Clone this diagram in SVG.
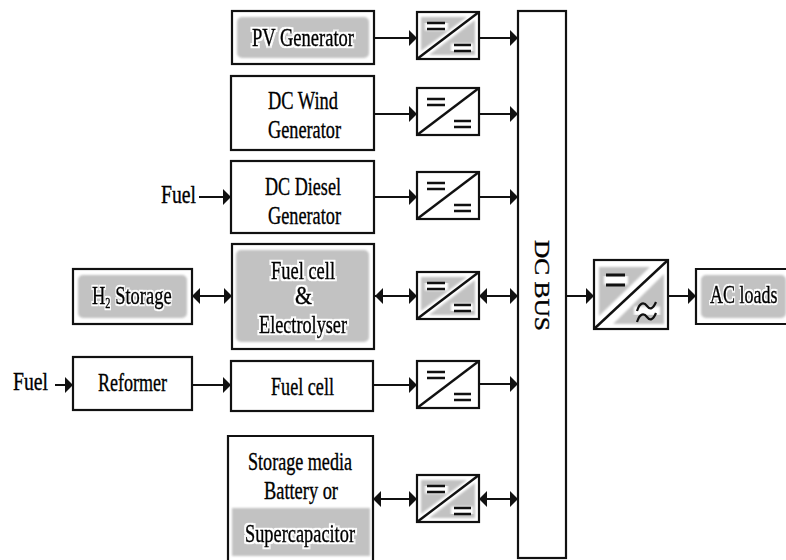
<svg xmlns="http://www.w3.org/2000/svg" width="786" height="560" viewBox="0 0 786 560">
<style>
.box{fill:#fff;stroke:#111;stroke-width:2.2}
.gray{fill:#c2c2c2;filter:url(#soft)}
.wire{fill:none;stroke:#111;stroke-width:2}
.wire-end{marker-end:url(#tip)}
.wire-both{marker-start:url(#tipStart);marker-end:url(#tip)}
.t{font-family:"Liberation Serif","Times New Roman",serif;font-size:25px;fill:#000;stroke:#000;stroke-width:.35px}
.h{filter:url(#textHalo)}
.eq{stroke:#111;stroke-width:2.6;fill:none}
.halo{stroke:#fff;stroke-width:9;fill:none;filter:url(#soft)}
</style>
<defs>
<filter id="soft" x="-10%" y="-10%" width="120%" height="120%" color-interpolation-filters="sRGB"><feGaussianBlur stdDeviation="0.8"/></filter>
<filter id="textHalo" x="-10%" y="-20%" width="120%" height="140%" color-interpolation-filters="sRGB">
<feMorphology in="SourceAlpha" operator="dilate" radius="1.6" result="d"/>
<feGaussianBlur in="d" stdDeviation="0.7" result="b"/>
<feFlood flood-color="#fff"/>
<feComposite in2="b" operator="in" result="w"/>
<feMerge><feMergeNode in="w"/><feMergeNode in="SourceGraphic"/></feMerge>
</filter>
<marker id="tip" markerUnits="userSpaceOnUse" markerWidth="10" markerHeight="16" refX="9" refY="8" orient="auto"><path d="M1 0L9 8L1 16Z" fill="#111"/></marker>
<marker id="tipStart" markerUnits="userSpaceOnUse" markerWidth="10" markerHeight="16" refX="1" refY="8" orient="auto"><path d="M9 0L1 8L9 16Z" fill="#111"/></marker>
<g id="conv">
<rect class="box" x="0" y="0" width="62" height="47"/>
<path d="M62 0L0 47" stroke="#111" stroke-width="2.4"/>
<path class="eq" d="M10 11H28M10 17H28M37 33H54M37 39H54"/>
</g>
<g id="convGray">
<rect class="box" x="0" y="0" width="62" height="47"/>
<path class="gray" d="M4 5H50L4 39ZM58 8V43H12Z"/>
<path class="halo" d="M8 14H31M34 36H56"/>
<path d="M62 0L0 47" stroke="#111" stroke-width="2.4"/>
<path class="eq" d="M10 11H28M10 17H28M37 33H54M37 39H54"/>
</g>
</defs>

<g id="connectors">
<path class="wire wire-end" d="M374 38H417"/>
<path class="wire wire-end" d="M479 38H518"/>
<path class="wire wire-end" d="M374 114H417"/>
<path class="wire wire-end" d="M479 114H518"/>
<path class="wire wire-end" d="M199 197H231"/>
<path class="wire wire-end" d="M374 197H417"/>
<path class="wire wire-end" d="M479 197H518"/>
<path class="wire wire-both" d="M192 296H232"/>
<path class="wire wire-both" d="M375 296H417"/>
<path class="wire wire-both" d="M479 296H518"/>
<path class="wire wire-end" d="M55 385H73"/>
<path class="wire wire-end" d="M192 385H231"/>
<path class="wire wire-end" d="M373 385H417"/>
<path class="wire wire-end" d="M479 384H518"/>
<path class="wire wire-both" d="M373 499H417"/>
<path class="wire wire-both" d="M479 499H518"/>
<path class="wire wire-end" d="M566 296H594"/>
<path class="wire wire-end" d="M668 296H696"/>
</g>

<g id="pv-generator">
<rect class="box" x="232" y="11" width="142" height="53"/>
<rect class="gray" x="237" y="17" width="132" height="41" rx="5"/>
<text class="t h" x="252" y="46" textLength="102" lengthAdjust="spacingAndGlyphs">PV Generator</text>
</g>
<g id="dc-wind">
<rect class="box" x="231" y="76" width="143" height="74"/>
<text class="t" x="268" y="109" textLength="70" lengthAdjust="spacingAndGlyphs">DC Wind</text>
<text class="t" x="268" y="138" textLength="73" lengthAdjust="spacingAndGlyphs">Generator</text>
</g>
<g id="fuel-label-1"><text class="t" x="161" y="203" textLength="35" lengthAdjust="spacingAndGlyphs">Fuel</text></g>
<g id="dc-diesel">
<rect class="box" x="231" y="161" width="143" height="72"/>
<text class="t" x="265" y="195" textLength="76" lengthAdjust="spacingAndGlyphs">DC Diesel</text>
<text class="t" x="268" y="224" textLength="73" lengthAdjust="spacingAndGlyphs">Generator</text>
</g>
<g id="h2-storage">
<rect class="box" x="73" y="269" width="119" height="55"/>
<rect class="gray" x="78" y="275" width="109" height="43" rx="5"/>
<text class="t h" transform="translate(92 304) scale(.74 1)">H<tspan font-size="14" dy="4">2</tspan><tspan dy="-4"> Storage</tspan></text>
</g>
<g id="fuel-cell-electrolyser">
<rect class="box" x="232" y="244" width="142" height="105"/>
<rect class="gray" x="236" y="250" width="133" height="92" rx="5"/>
<text class="t h" x="271" y="279" textLength="64" lengthAdjust="spacingAndGlyphs">Fuel cell</text>
<text class="t h" x="295" y="304" textLength="17" lengthAdjust="spacingAndGlyphs">&amp;</text>
<text class="t h" x="259" y="333" textLength="88" lengthAdjust="spacingAndGlyphs">Electrolyser</text>
</g>
<g id="fuel-label-2"><text class="t" x="13" y="390" textLength="35" lengthAdjust="spacingAndGlyphs">Fuel</text></g>
<g id="reformer">
<rect class="box" x="73" y="357" width="119" height="53"/>
<text class="t" x="98" y="391" textLength="69" lengthAdjust="spacingAndGlyphs">Reformer</text>
</g>
<g id="fuel-cell">
<rect class="box" x="231" y="361" width="142" height="50"/>
<text class="t" x="271" y="395" textLength="63" lengthAdjust="spacingAndGlyphs">Fuel cell</text>
</g>
<g id="storage">
<path class="box" d="M228 560V436H373V560"/>
<rect class="gray" x="232" y="508" width="138" height="48"/>
<text class="t" x="248" y="470" textLength="104" lengthAdjust="spacingAndGlyphs">Storage media</text>
<text class="t" x="264" y="499" textLength="74" lengthAdjust="spacingAndGlyphs">Battery or</text>
<text class="t h" x="245" y="542" textLength="110" lengthAdjust="spacingAndGlyphs">Supercapacitor</text>
</g>

<g id="conv-pv"><use href="#convGray" x="417" y="12"/></g>
<g id="conv-wind"><use href="#conv" x="417" y="88"/></g>
<g id="conv-diesel"><use href="#conv" x="417" y="172"/></g>
<g id="conv-fce"><use href="#convGray" x="417" y="272"/></g>
<g id="conv-fc"><use href="#conv" x="417" y="361"/></g>
<g id="conv-storage"><use href="#convGray" x="417" y="475"/></g>

<g id="dc-bus">
<rect class="box" x="518" y="11" width="48" height="547"/>
<text class="t" style="font-size:20px" transform="translate(535 240) rotate(90)" textLength="91" lengthAdjust="spacingAndGlyphs">DC BUS</text>
</g>

<g id="inverter">
<rect class="box" x="594" y="260" width="74" height="69"/>
<path class="gray" d="M599 267H650L599 316ZM664 274V324H613Z"/>
<path class="halo" d="M604 280H628M634 311H660"/>
<path d="M668 260L594 329" stroke="#111" stroke-width="2.4"/>
<path class="eq" d="M606 275H625M606 285H625" style="stroke-width:3"/>
<path d="M637 311C640 302 644 302 647 306S653 309 656 302M637 322C640 313 644 313 647 317S653 320 656 313" fill="none" stroke="#111" stroke-width="2.2"/>
</g>
<g id="ac-loads">
<path class="box" d="M786 269H696V324H786"/>
<rect class="gray" x="701" y="275" width="85" height="43" rx="5"/>
<text class="t h" transform="translate(710 303) scale(.72 1)">AC loads</text>
</g>
</svg>
